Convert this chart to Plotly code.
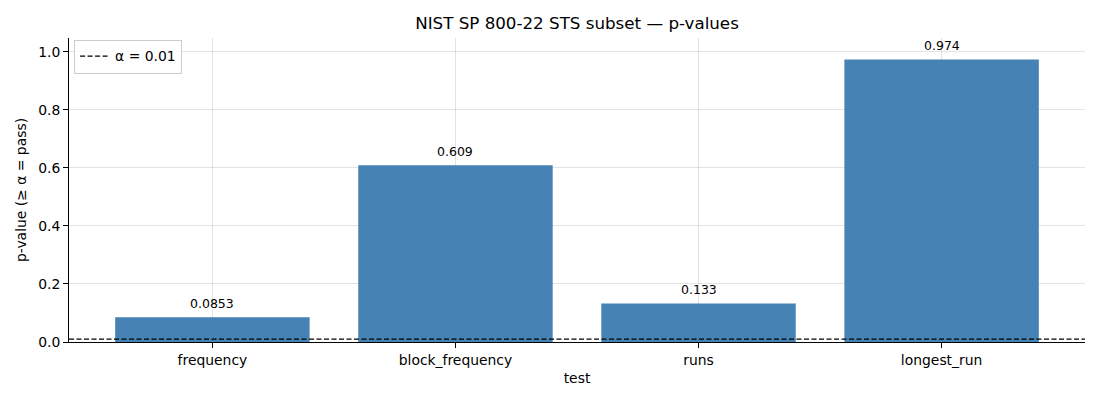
import plotly.graph_objects as go

tests = ["frequency", "block_frequency", "runs", "longest_run"]
p_values = [0.0853, 0.609, 0.133, 0.974]
labels = ["0.0853", "0.609", "0.133", "0.974"]
alpha = 0.01
alpha_label = "α = 0.01"

positions = list(range(len(tests)))

fig = go.Figure()
fig.add_trace(go.Bar(
    x=positions, y=p_values, width=0.8,
    marker=dict(color="#4682B4", line=dict(width=0)),
    showlegend=False, hoverinfo="y",
))
fig.add_hline(
    y=alpha, line=dict(color="black", width=1.2, dash="5px,2.5px"),
    showlegend=True, name=alpha_label, layer="above",
)

for x, v, lab in zip(positions, p_values, labels):
    fig.add_annotation(x=x, y=v, text=lab, showarrow=False,
                       yanchor="bottom", yshift=4,
                       font=dict(size=12.5, color="black"))

font = "DejaVu Sans"
fig.update_layout(
    width=1092, height=392,
    margin=dict(l=58, r=15, t=30, b=58),
    paper_bgcolor="white", plot_bgcolor="white",
    font=dict(family=font, size=13.9, color="black"),
    title=dict(text="NIST SP 800-22 STS subset — p-values", x=0.5, xanchor="center",
               xref="paper", y=0.962, yanchor="middle", font=dict(size=16.7)),
    legend=dict(x=0.005, y=0.995, xanchor="left", yanchor="top",
                bordercolor="#cccccc", borderwidth=1, bgcolor="rgba(255,255,255,0.8)",
                font=dict(size=13.9), itemwidth=30, tracegroupgap=0),
)
fig.update_xaxes(
    range=[-0.59, len(tests) - 1 + 0.59],
    tickmode="array", tickvals=positions, ticktext=tests,
    showline=True, linecolor="black", linewidth=1,
    ticks="outside", ticklen=5, tickcolor="black",
    showgrid=True, gridcolor="rgba(176,176,176,0.35)", gridwidth=0.8,
    title=dict(text="test", font=dict(size=13.9), standoff=6),
    layer="above traces", zeroline=False,
)
fig.update_yaxes(
    range=[0, 1.048], dtick=0.2, tickformat=".1f",
    showline=True, linecolor="black", linewidth=1,
    ticks="outside", ticklen=5, tickcolor="black",
    showgrid=True, gridcolor="rgba(176,176,176,0.35)", gridwidth=0.8,
    title=dict(text="p-value (≥ α = pass)", font=dict(size=13.9), standoff=8),
    layer="above traces", zeroline=False,
)

fig.write_html("out.html")
